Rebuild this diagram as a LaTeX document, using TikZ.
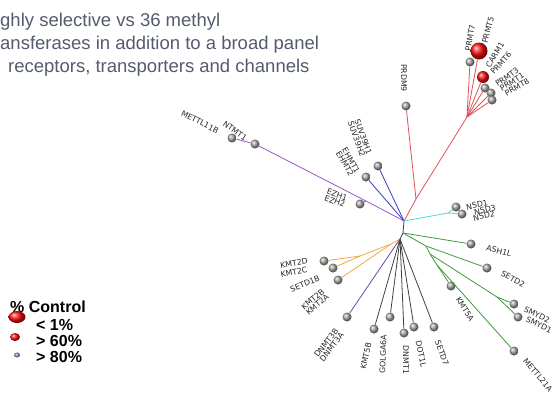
\documentclass[tikz,border=0pt]{standalone}
\usepackage{fontspec}
\setmainfont{Liberation Sans}
\newfontfamily\lblfont{DejaVu Sans}
\usetikzlibrary{shapes.geometric, positioning}
\definecolor{redbr}{HTML}{E0505A}
\definecolor{bluebr}{HTML}{3A3AC8}
\definecolor{purplebr}{HTML}{9A55C8}
\definecolor{cyanbr}{HTML}{50D8D8}
\definecolor{greenbr}{HTML}{3E9A3E}
\definecolor{orangebr}{HTML}{F0A848}
\definecolor{violetbr}{HTML}{6A48A8}
\definecolor{titlegray}{HTML}{555B6E}
\definecolor{hitred}{HTML}{FF1010}
\begin{document}
\begin{tikzpicture}[x=1pt, y=-1pt,
    br/.style={line width=0.8pt},
    leaf/.style={circle, inner sep=0pt, minimum size=9pt, ball color=gray!70},
    hit/.style={circle, inner sep=0pt, minimum size=#1, ball color=hitred},
    lab/.style={font=\lblfont\fontsize{7.8}{7}\selectfont, text=black!85, inner sep=0pt, align=center},
    title/.style={font=\fontsize{18.5}{22}\selectfont, text=titlegray, anchor=base west, inner sep=0pt},
    key/.style={font=\bfseries\fontsize{16}{18}\selectfont, anchor=base west, inner sep=0pt},
    dot/.style={ellipse, inner sep=0pt, minimum width=#1}]
    \useasboundingbox (0,0) rectangle (556,394);
    \node[title] (t1) at (0,26) {ghly selective vs 36 methyl};
    \node[title] (t2) at (0,49) {ansferases in addition to a broad panel};
    \node[title] (t3) at (8,72) {receptors, transporters and channels};
    % inner points of the tree
    \coordinate (c0) at (404,221);
    \coordinate (c1) at (403,233);
    \coordinate (k0) at (400,239);
    \coordinate (r1) at (416,199);
    \coordinate (r2) at (467,117);
    \coordinate (p1) at (366,201);
    \coordinate (n1) at (448,213);
    \coordinate (g1) at (426,246);
    \coordinate (g2) at (430,254);
    \coordinate (g3) at (497,297);
    \coordinate (g4) at (437,265);
    \coordinate (o0) at (391,244);
    \coordinate (o1) at (360,256);
    % leaves
    \node[leaf] (prdm9) at (406,106) {};
    \node[leaf] (prmt7) at (470,62) {};
    \node[hit=17pt] (prmt5) at (479,51) {};
    \node[hit=12pt] (carm1) at (483,77) {};
    \node[leaf] (prmt3) at (485,88) {};
    \node[leaf] (prmt1) at (491,93) {};
    \node[leaf] (prmt8) at (492,100) {};
    \node[leaf] (suv) at (378,166) {};
    \node[leaf] (ehmt) at (366,177) {};
    \node[leaf] (ezh) at (360,204) {};
    \node[leaf] (ntmt1) at (255,144) {};
    \node[leaf] (mettl11b) at (232,138) {};
    \node[leaf] (nsd1) at (456,207) {};
    \node[leaf] (nsd2) at (462,214) {};
    \node[leaf] (ash1l) at (471,244) {};
    \node[leaf] (setd2) at (487,268) {};
    \node[leaf] (smyd2) at (514,304) {};
    \node[leaf] (smyd1) at (518,317) {};
    \node[leaf] (kmt5a) at (451,286) {};
    \node[leaf] (mettl21a) at (514,351) {};
    \node[leaf] (setd7) at (434,327) {};
    \node[leaf] (dot1l) at (414,327) {};
    \node[leaf] (dnmt1) at (404,333) {};
    \node[leaf] (golga6a) at (390,317) {};
    \node[leaf] (kmt5b) at (374,329) {};
    \node[leaf] (dnmt3) at (347,317) {};
    \node[leaf] (kmt2d) at (324,261) {};
    \node[leaf] (kmt2c) at (333,268) {};
    \node[leaf] (setd1b) at (338,280) {};
    % branches
    \draw[br, black!75] (c0) -- (c1) -- (k0);
    \draw[br, redbr] (c0) -- (r1) -- (prdm9);
    \draw[br, redbr] (r1) -- (r2);
    \foreach \n in {prmt7,prmt5,carm1,prmt3,prmt1,prmt8}
        \draw[br, redbr] (r2) -- (\n);
    \foreach \n in {suv,ehmt}
        \draw[br, bluebr] (c0) -- (\n);
    \draw[br, purplebr] (c0) -- (p1) -- (ntmt1) -- (mettl11b);
    \draw[br, purplebr] (p1) -- (ezh);
    \draw[br, cyanbr] (c0) -- (n1) -- (nsd1);
    \draw[br, cyanbr] (n1) -- (nsd2);
    \draw[br, greenbr] (c1) -- (ash1l);
    \draw[br, greenbr] (c1) -- (g1) -- (setd2);
    \draw[br, greenbr] (g1) -- (g2) -- (g3) -- (smyd2);
    \draw[br, greenbr] (g3) -- (smyd1);
    \draw[br, greenbr] (g2) -- (g4) -- (kmt5a);
    \draw[br, greenbr] (g4) -- (mettl21a);
    \foreach \n in {setd7,dot1l,dnmt1,golga6a,kmt5b}
        \draw[br, black!75] (k0) -- (\n);
    \draw[br, orangebr] (k0) -- (o0) -- (o1) -- (kmt2d);
    \draw[br, orangebr] (o1) -- (kmt2c);
    \draw[br, orangebr] (o0) -- (setd1b);
    \draw[br, violetbr] (k0) -- (dnmt3);
    % labels
    \node[lab, rotate=-90] (l-prdm9) at (404,78) {PRDM9};
    \node[lab, rotate=80] (l-prmt7) at (470,38) {PRMT7};
    \node[lab, rotate=75] (l-prmt5) at (488,30) {PRMT5};
    \node[lab, rotate=58] (l-carm1) at (495,55) {CARM1};
    \node[lab, rotate=48] (l-prmt6) at (501,63) {PRMT6};
    \node[lab, rotate=35] (l-prmt3) at (507,77) {PRMT3};
    \node[lab, rotate=32] (l-prmt1) at (512,82) {PRMT1};
    \node[lab, rotate=30] (l-prmt8) at (517,87) {PRMT8};
    \node[lab, rotate=-70] (l-suv) at (360,138) {SUV39H1\\SUV39H2};
    \node[lab, rotate=-60] (l-ehmt) at (348,162) {EHMT1\\EHMT2};
    \node[lab, rotate=-20] (l-ezh) at (336,198) {EZH1\\EZH2};
    \node[lab, rotate=-35] (l-ntmt1) at (235,131) {NTMT1};
    \node[lab, rotate=-27] (l-mettl11b) at (200,122) {METTL11B};
    \node[lab, rotate=12] (l-nsd1) at (477,205) {NSD1};
    \node[lab, rotate=12] (l-nsd3) at (485,210) {NSD3};
    \node[lab, rotate=12] (l-nsd2) at (484,216) {NSD2};
    \node[lab, rotate=-15] (l-ash1l) at (499,251) {ASH1L};
    \node[lab, rotate=-28] (l-setd2) at (513,279) {SETD2};
    \node[lab, rotate=-25] (l-smyd2) at (537,315) {SMYD2};
    \node[lab, rotate=-25] (l-smyd1) at (539,325) {SMYD1};
    \node[lab, rotate=-50] (l-mettl21a) at (538,375) {METTL21A};
    \node[lab, rotate=-58] (l-kmt5a) at (465,309) {KMT5A};
    \node[lab, rotate=-70] (l-setd7) at (442,353) {SETD7};
    \node[lab, rotate=-78] (l-dot1l) at (421,354) {DOT1L};
    \node[lab, rotate=-90] (l-dnmt1) at (406,360) {DNMT1};
    \node[lab, rotate=88] (l-golga6a) at (383,354) {GOLGA6A};
    \node[lab, rotate=78] (l-kmt5b) at (366,356) {KMT5B};
    \node[lab, rotate=52] (l-dnmt3) at (329,345) {DNMT3B\\DNMT3A};
    \node[lab, rotate=10] (l-kmt2d) at (294,263) {KMT2D};
    \node[lab, rotate=12] (l-kmt2c) at (294,272) {KMT2C};
    \node[lab, rotate=22] (l-setd1b) at (305,284) {SETD1B};
    \node[lab, rotate=40] (l-kmt2b) at (315,302) {KMT2B\\KMT2A};
    % key
    \node[key] (kh) at (10,312) {\% Control};
    \node[dot=17pt, minimum height=12pt, ball color=hitred] (k1) at (17,317) {};
    \node[key] (kt1) at (36,330) {< 1\%};
    \node[dot=10pt, minimum height=8pt, ball color=hitred] (k2) at (15,337) {};
    \node[key] (kt2) at (36,346) {> 60\%};
    \node[dot=6pt, minimum height=5pt, ball color=blue!30!gray!70] (k3) at (17,355) {};
    \node[key] (kt3) at (36,362) {> 80\%};
\end{tikzpicture}
\end{document}
